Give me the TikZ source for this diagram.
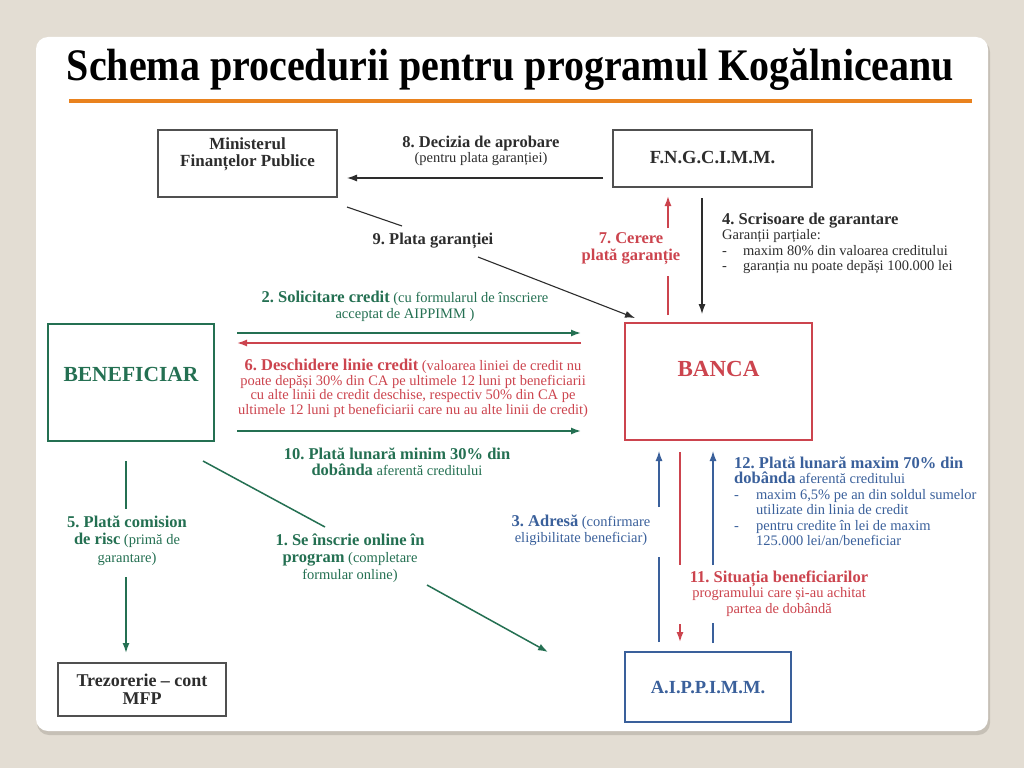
\documentclass[tikz,border=0pt]{standalone}
\usepackage{fontspec}
\setmainfont{Liberation Serif}
\usetikzlibrary{arrows.meta}
\definecolor{bgc}{RGB}{227,221,211}
\definecolor{shc}{RGB}{198,192,182}
\definecolor{orc}{RGB}{233,130,30}
\definecolor{grn}{RGB}{36,112,82}
\definecolor{rdc}{RGB}{204,68,78}
\definecolor{blc}{RGB}{58,96,155}
\definecolor{dkc}{RGB}{45,45,45}
\definecolor{bxc}{RGB}{80,80,80}
\newcommand\lbB{\fontsize{16.5}{16}\selectfont\bfseries}
\frenchspacing
\begin{document}
\begin{tikzpicture}[x=1pt,y=-1pt,
  box/.style={draw=bxc, line width=1.1pt, inner sep=0pt},
  boxtxt/.style={inner sep=0pt, align=center, text=dkc, font=\fontsize{17}{17}\selectfont\bfseries},
  lbl/.style={inner sep=0pt, align=center, font=\fontsize{14.5}{#1}\selectfont},
  lbl/.default=16,
  tip/.style={-{Latex[length=10pt,width=7pt]}},
  dkline/.style={draw=dkc, line width=1.1pt},
  gnline/.style={draw=grn, line width=1.5pt},
  rdline/.style={draw=rdc, line width=1.5pt},
  blline/.style={draw=blc, line width=1.3pt}]
\useasboundingbox (0,0) rectangle (1024,768);
\fill[bgc] (0,0) rectangle (1024,768);
\fill[shc, rounded corners=12pt] (37,40) rectangle (990,735);
\fill[white, rounded corners=12pt] (36,37) rectangle (988,731);
% title
\node[anchor=base, inner sep=0pt, font=\fontsize{43}{48}\selectfont\bfseries] (title) at (510.5,81)
  {\scalebox{0.93}[1.05]{Schema procedurii pentru programul Kogălniceanu}};
\draw[orc, line width=4.5pt] (69,101) -- (972,101);
% boxes
\node[box, minimum width=179pt, minimum height=67pt] (mfp) at (247.5,163.5) {};
\node[boxtxt] (mfpt) at (247.5,154) {Ministerul\\Finanțelor Publice};
\node[box, minimum width=199pt, minimum height=57pt] (fng) at (712.5,158.5) {};
\node[boxtxt, font=\fontsize{18.5}{18}\selectfont\bfseries] (fngt) at (712.5,158) {F.N.G.C.I.M.M.};
\node[box, draw=grn, line width=1.5pt, minimum width=166pt, minimum height=117pt] (ben) at (131,382.5) {};
\node[boxtxt, text=grn, font=\fontsize{21.5}{22}\selectfont\bfseries] (bent) at (131,374) {BENEFICIAR};
\node[box, draw=rdc, line width=1.5pt, minimum width=187pt, minimum height=117pt] (banca) at (718.5,381.5) {};
\node[boxtxt, text=rdc, font=\fontsize{23}{22}\selectfont\bfseries] (bancat) at (718.5,369) {BANCA};
\node[box, minimum width=168pt, minimum height=53pt] (trez) at (142,689.5) {};
\node[boxtxt, font=\fontsize{18}{18}\selectfont\bfseries] (trezt) at (142,689.5) {Trezorerie – cont\\MFP};
\node[box, draw=blc, line width=1.3pt, minimum width=166pt, minimum height=70pt] (aip) at (708,687) {};
\node[boxtxt, text=blc, font=\fontsize{18.5}{18}\selectfont\bfseries] (aipt) at (708,688) {A.I.P.P.I.M.M.};
% 8
\coordinate (p8s) at (603,178); \coordinate (p8e) at (347,178);
\draw[dkline, tip] (p8s) -- (p8e);
\node[lbl=15, text=dkc] (l8) at (481,150.5) {{\lbB 8. Decizia de aprobare}\\(pentru plata garanției)};
% 9
\coordinate (p9a) at (347,207); \coordinate (p9b) at (402,226);
\coordinate (p9c) at (478,257); \coordinate (p9d) at (635,318);
\node[lbl, text=dkc] (l9) at (433,241) {\lbB 9. Plata garanției};
\draw[dkline] (p9a) -- (p9b);
\draw[dkline, tip] (p9c) -- (p9d);
% 7
\coordinate (p7a) at (668,315); \coordinate (p7b) at (668,276);
\coordinate (p7c) at (668,228); \coordinate (p7d) at (668,196);
\draw[rdline] (p7a) -- (p7b);
\draw[rdline, tip] (p7c) -- (p7d);
\node[lbl=17, text=rdc, font=\lbB\fontsize{16.5}{17}\selectfont] (l7) at (631,249) {7. Cerere\\plată garanție};
% 4
\coordinate (p4a) at (702,198); \coordinate (p4b) at (702,314);
\draw[dkline, tip] (p4a) -- (p4b);
\node[lbl=15.5, text=dkc, align=left, anchor=west] (l4) at (722,243.5)
  {{\lbB 4. Scrisoare de garantare}\\Garanții parțiale:\\\makebox[21pt][l]{-}maxim 80\% din valoarea creditului\\\makebox[21pt][l]{-}garanția nu poate depăși 100.000 lei};
% 2, 6, 10
\coordinate (p2a) at (237,333); \coordinate (p2b) at (581,333);
\coordinate (p6a) at (581,343); \coordinate (p6b) at (237,343);
\coordinate (p10a) at (237,431); \coordinate (p10b) at (581,431);
\draw[gnline, tip] (p2a) -- (p2b);
\draw[rdline, tip] (p6a) -- (p6b);
\draw[gnline, tip] (p10a) -- (p10b);
\node[lbl, text=grn] (l2) at (405,306) {{\lbB 2. Solicitare credit} (cu formularul de înscriere\\acceptat de AIPPIMM )};
\node[lbl=14.5, text=rdc] (l6) at (413,388.5) {{\lbB 6. Deschidere linie credit} (valoarea liniei de credit nu\\poate depăși 30\% din CA pe ultimele 12 luni pt beneficiarii\\cu alte linii de credit deschise, respectiv 50\% din CA pe\\ultimele 12 luni pt beneficiarii care nu au alte linii de credit)};
\node[lbl, text=grn] (l10) at (397,461.5) {{\lbB 10. Plată lunară minim 30\% din}\\{\lbB dobânda} aferentă creditului};
% 5
\coordinate (p5a) at (126,461); \coordinate (p5b) at (126,509);
\coordinate (p5c) at (126,577); \coordinate (p5d) at (126,653);
\draw[gnline] (p5a) -- (p5b);
\draw[gnline, tip] (p5c) -- (p5d);
\node[lbl=17.5, text=grn] (l5) at (127,540.5) {{\lbB 5. Plată comision}\\{\lbB de risc} (primă de\\garantare)};
% 1
\coordinate (p1a) at (203,461); \coordinate (p1b) at (325,527);
\coordinate (p1c) at (427,585); \coordinate (p1d) at (548,652);
\draw[gnline] (p1a) -- (p1b);
\draw[gnline, tip] (p1c) -- (p1d);
\node[lbl=17, text=grn] (l1) at (350,558) {{\lbB 1. Se înscrie online în}\\{\lbB program} (completare\\formular online)};
% 3
\coordinate (p3a) at (659,642); \coordinate (p3b) at (659,557);
\coordinate (p3c) at (659,507); \coordinate (p3d) at (659,451);
\draw[blline] (p3a) -- (p3b);
\draw[blline, tip] (p3c) -- (p3d);
\node[lbl, text=blc] (l3) at (581,530) {{\lbB 3. Adresă} (confirmare\\eligibilitate beneficiar)};
% 11
\coordinate (p11a) at (680,452); \coordinate (p11b) at (680,565);
\coordinate (p11c) at (680,624); \coordinate (p11d) at (680,642);
\draw[rdline] (p11a) -- (p11b);
\draw[rdline, tip] (p11c) -- (p11d);
\node[lbl=15.5, text=rdc] (l11) at (779,593.5) {{\lbB 11. Situația beneficiarilor}\\programului care și-au achitat\\partea de dobândă};
% 12
\coordinate (p12a) at (713,643); \coordinate (p12b) at (713,623);
\coordinate (p12c) at (713,565); \coordinate (p12d) at (713,451);
\draw[blline] (p12a) -- (p12b);
\draw[blline, tip] (p12c) -- (p12d);
\node[lbl=15.5, text=blc, align=left, anchor=west] (l12) at (734,501.5)
  {{\lbB 12. Plată lunară maxim 70\% din}\\{\lbB dobânda} aferentă creditului\\\makebox[22pt][l]{-}maxim 6,5\% pe an din soldul sumelor\\\makebox[22pt][l]{}utilizate din linia de credit\\\makebox[22pt][l]{-}pentru credite în lei de maxim\\\makebox[22pt][l]{}125.000 lei/an/beneficiar};
\end{tikzpicture}
\end{document}
